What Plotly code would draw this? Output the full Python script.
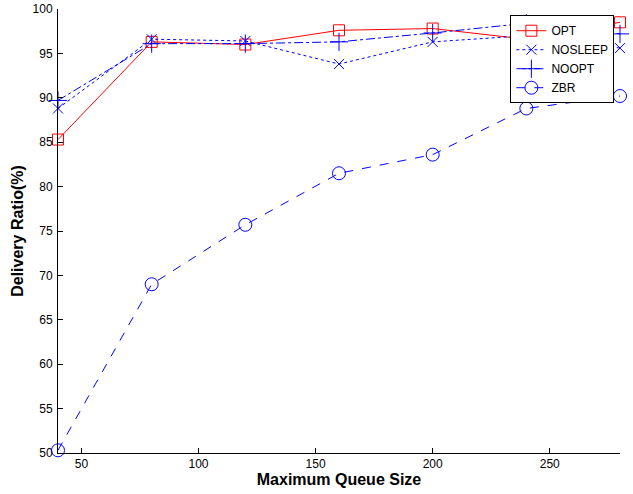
import plotly.graph_objects as go

queue_size = [40, 80, 120, 160, 200, 240, 280]
opt = [85.3, 96.3, 96.0, 97.6, 97.8, 96.6, 98.5]
nosleep = [88.8, 96.6, 96.4, 93.8, 96.3, 97.0, 95.6]
noopt = [89.7, 96.1, 96.1, 96.3, 97.3, 98.4, 97.2]
zbr = [50.3, 69.0, 75.7, 81.5, 83.6, 88.8, 90.2]

x_ticks = [50, 100, 150, 200, 250]
y_ticks = [50, 55, 60, 65, 70, 75, 80, 85, 90, 95, 100]

RED = "rgb(255,0,0)"
BLUE = "rgb(0,0,255)"
FONT = "Liberation Sans, Arial, sans-serif"

fig = go.Figure()
fig.add_trace(go.Scatter(x=queue_size, y=opt, name="OPT", mode="lines+markers",
                         line=dict(color=RED, width=1, dash="solid"),
                         marker=dict(symbol="square-open", size=11, color=RED, line=dict(width=1)),
                         cliponaxis=False))
fig.add_trace(go.Scatter(x=queue_size, y=nosleep, name="NOSLEEP", mode="lines+markers",
                         line=dict(color=BLUE, width=1, dash="dot"),
                         marker=dict(symbol="x-thin", size=10, color=BLUE, line=dict(width=1, color=BLUE)),
                         cliponaxis=False))
fig.add_trace(go.Scatter(x=queue_size, y=noopt, name="NOOPT", mode="lines+markers",
                         line=dict(color=BLUE, width=1, dash="dashdot"),
                         marker=dict(symbol="cross-thin", size=13, color=BLUE, line=dict(width=1, color=BLUE)),
                         cliponaxis=False))
fig.add_trace(go.Scatter(x=queue_size, y=zbr, name="ZBR", mode="lines+markers",
                         line=dict(color=BLUE, width=1, dash="dash"),
                         marker=dict(symbol="circle-open", size=13, color=BLUE, line=dict(width=1)),
                         cliponaxis=False))

axis_common = dict(showgrid=False, zeroline=False, showline=True, linecolor="black", linewidth=1,
                   ticks="inside", ticklen=5, tickcolor="black", mirror=False, automargin=False,
                   tickfont=dict(family=FONT, size=12, color="black"))

fig.update_layout(
    width=633, height=494,
    margin=dict(l=58, r=13, t=9, b=41, autoexpand=False),
    paper_bgcolor="white", plot_bgcolor="white",
    showlegend=True,
    legend=dict(x=0.99, y=0.986, xanchor="right", yanchor="top",
                bgcolor="white", bordercolor="black", borderwidth=1,
                font=dict(family=FONT, size=12, color="black"),
                tracegroupgap=0, itemwidth=30),
    xaxis=dict(range=[40, 280], tickvals=x_ticks,
               title=dict(text="<b>Maximum Queue Size</b>", standoff=2,
                          font=dict(family=FONT, size=16, color="black")),
               **axis_common),
    yaxis=dict(range=[50, 100], tickvals=y_ticks, ticklabelstandoff=2,
               title=dict(text="<b>Delivery Ratio(%)</b>", standoff=4,
                          font=dict(family=FONT, size=16, color="black")),
               **axis_common),
)

fig.write_html("out.html", config={"displayModeBar": False},
               post_script="document.body.style.margin='0';")
